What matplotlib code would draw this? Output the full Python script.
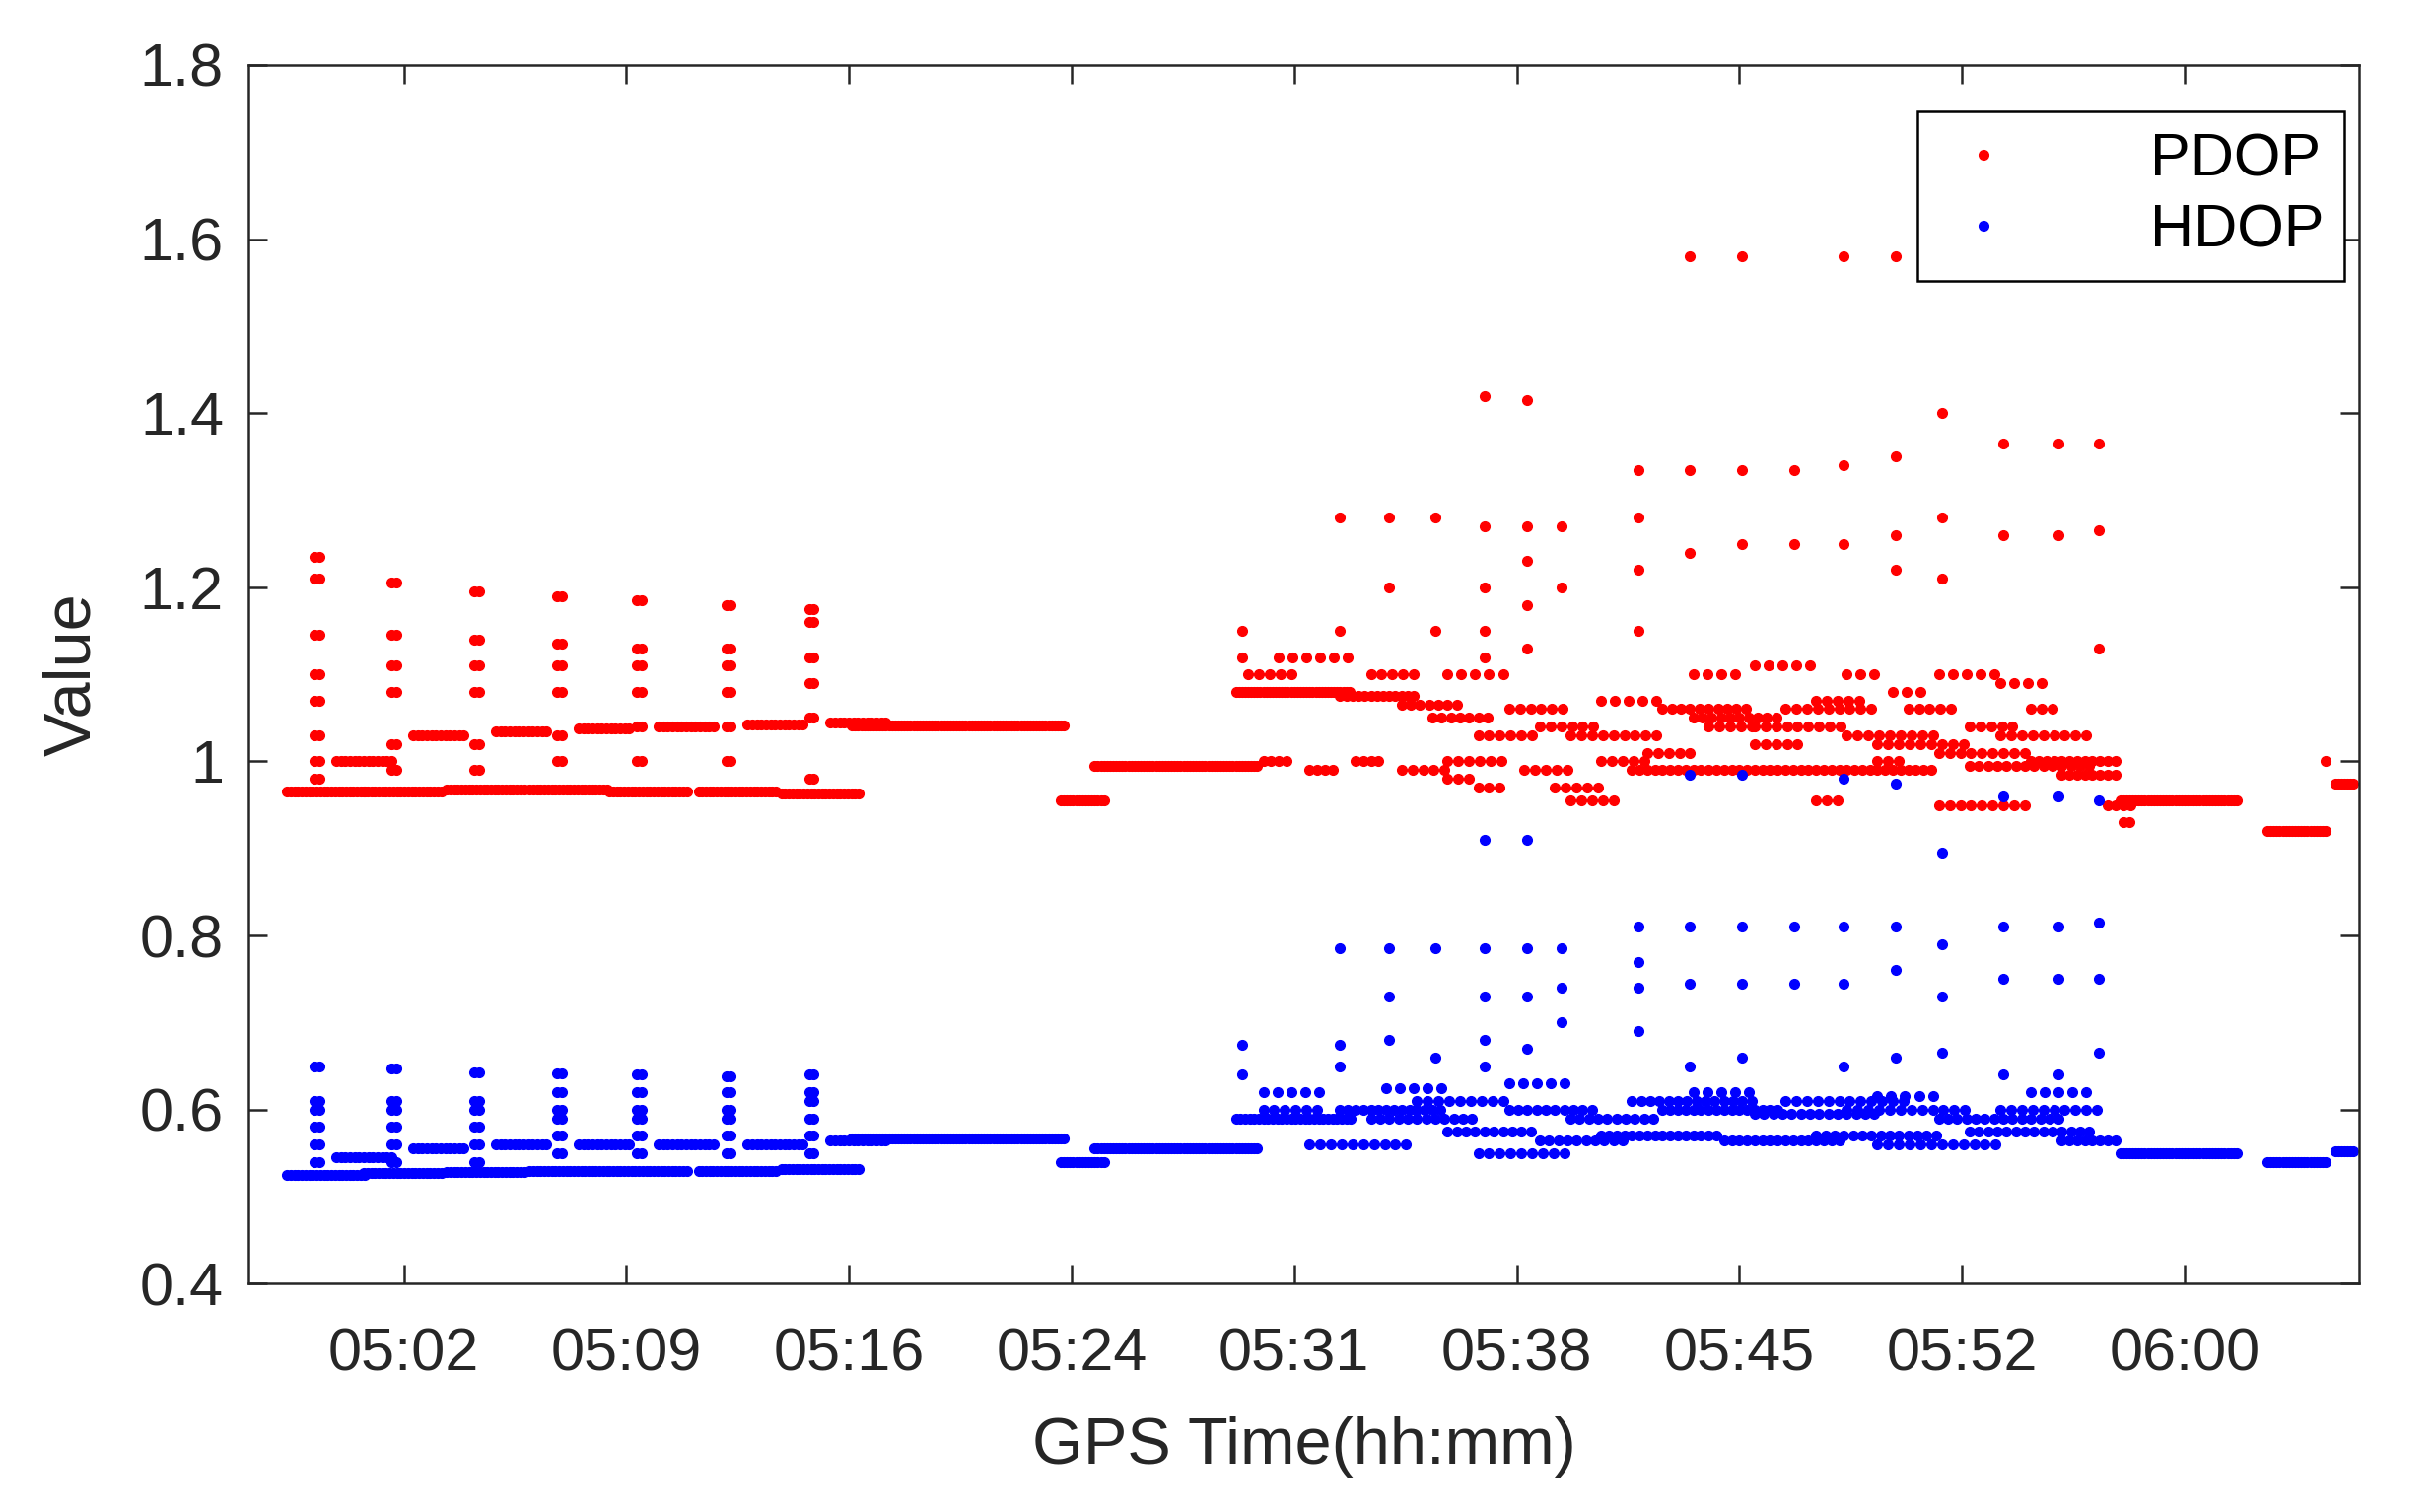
import numpy as np
import matplotlib
matplotlib.use("Agg")
import matplotlib.pyplot as plt

plt.rcParams['font.family'] = ['Liberation Sans', 'DejaVu Sans']

# time in minutes after 05:00
tick_pos = [2.0, 9.25, 16.5, 23.75, 31.0, 38.25, 45.5, 52.75, 60.0]
tick_lab = ["05:02", "05:09", "05:16", "05:24", "05:31", "05:38", "05:45", "05:52", "06:00"]

cyc_t = [-0.9, 1.6, 4.3, 7.0, 9.6, 12.5, 15.2]
p_cyc_low = [0.965, 0.965, 0.968, 0.968, 0.966, 0.965, 0.963]
p_cyc_high = [1.0, 1.03, 1.035, 1.038, 1.04, 1.042, 1.045]
p_cyc_spk = [[0.98, 1.0, 1.03, 1.07, 1.1, 1.145, 1.21, 1.235],
             [0.99, 1.02, 1.08, 1.11, 1.145, 1.205],
             [0.99, 1.02, 1.08, 1.11, 1.14, 1.195],
             [1.0, 1.03, 1.08, 1.11, 1.135, 1.19],
             [1.0, 1.04, 1.08, 1.11, 1.13, 1.185],
             [1.0, 1.04, 1.08, 1.11, 1.13, 1.18],
             [0.98, 1.05, 1.09, 1.12, 1.16, 1.175]]
h_cyc_low = [0.525, 0.527, 0.528, 0.529, 0.53, 0.53, 0.532]
h_cyc_high = [0.545, 0.555, 0.56, 0.56, 0.56, 0.56, 0.565]
h_cyc_spk = [[0.54, 0.56, 0.58, 0.6, 0.61, 0.65],
             [0.54, 0.56, 0.58, 0.6, 0.61, 0.647],
             [0.54, 0.56, 0.58, 0.6, 0.61, 0.643],
             [0.55, 0.57, 0.59, 0.6, 0.62, 0.642],
             [0.55, 0.57, 0.59, 0.6, 0.62, 0.64],
             [0.55, 0.57, 0.59, 0.6, 0.62, 0.638],
             [0.55, 0.57, 0.59, 0.61, 0.62, 0.64]]

p_segments = [(16.6, 23.6, 1.041, 0.1), (23.4, 24.9, 0.955, 0.1), (24.5, 29.8, 0.995, 0.1),
              (29.1, 32.9, 1.08, 0.1), (32.5, 35.0, 1.075, 0.2), (34.5, 36.5, 1.065, 0.3),
              (35.5, 37.5, 1.05, 0.3), (37.0, 39.0, 1.03, 0.35), (29.5, 31, 1.1, 0.35),
              (30.5, 33, 1.12, 0.45), (33.5, 35, 1.1, 0.35), (36, 38, 1.1, 0.45),
              (38, 40, 1.06, 0.35), (39, 41, 1.04, 0.35), (40, 43, 1.03, 0.35),
              (41, 43, 1.07, 0.45), (43, 46, 1.06, 0.3), (44, 47, 1.05, 0.3),
              (46, 49, 1.04, 0.35), (47, 50, 1.06, 0.35), (49, 52, 1.03, 0.35),
              (50, 53, 1.02, 0.35), (52, 55, 1.01, 0.35), (54, 57, 1.03, 0.35),
              (55, 58, 1.0, 0.25), (56, 58, 0.985, 0.25),
              (30, 31, 1.0, 0.25), (31.5, 32.5, 0.99, 0.25), (33, 34, 1.0, 0.25),
              (34.5, 36, 0.99, 0.35), (36, 37, 0.98, 0.35), (37, 38, 0.97, 0.35),
              (38.5, 40, 0.99, 0.35), (39.5, 41, 0.97, 0.35), (40, 41.5, 0.955, 0.35),
              (42, 47, 0.99, 0.25), (47, 52, 0.99, 0.25), (48, 49, 0.955, 0.35),
              (52, 55, 0.95, 0.35), (53, 57, 0.995, 0.3), (57.5, 58.5, 0.95, 0.25),
              (58, 58.4, 0.93, 0.2), (36, 38, 1.0, 0.35), (41, 42.5, 1.0, 0.35),
              (42.5, 44, 1.01, 0.35), (44.5, 46, 1.04, 0.35), (46, 47.5, 1.02, 0.35),
              (48, 49.5, 1.07, 0.35), (50, 51, 1.0, 0.35), (51, 52.5, 1.06, 0.35),
              (53, 54.5, 1.04, 0.35), (55, 56, 1.06, 0.35), (44, 45.5, 1.1, 0.45),
              (46, 48, 1.11, 0.45), (49, 50, 1.1, 0.45), (50.5, 51.5, 1.08, 0.45),
              (52, 54, 1.1, 0.45), (54, 55.5, 1.09, 0.45),
              (57.9, 61.7, 0.955, 0.1), (62.7, 64.7, 0.92, 0.1), (64.9, 65.6, 0.975, 0.1)]
h_segments = [(16.6, 23.6, 0.567, 0.1), (23.4, 24.9, 0.54, 0.1), (24.5, 29.8, 0.555, 0.1),
              (29.1, 33.0, 0.59, 0.15), (30, 32, 0.6, 0.35), (31.5, 35, 0.56, 0.35),
              (32.5, 36, 0.6, 0.25), (33.5, 37, 0.59, 0.3), (35, 38, 0.61, 0.35),
              (36, 39, 0.575, 0.3), (37, 40, 0.55, 0.35), (38, 41, 0.6, 0.3),
              (39, 42, 0.565, 0.3), (40, 43, 0.59, 0.3), (41, 45, 0.57, 0.25),
              (42, 46, 0.61, 0.3), (43, 47, 0.6, 0.25), (45, 49, 0.565, 0.25),
              (46, 50, 0.595, 0.3), (47, 51, 0.61, 0.35), (48, 52, 0.57, 0.3),
              (49, 53, 0.6, 0.35), (50, 54, 0.56, 0.35), (52, 56, 0.59, 0.3),
              (53, 57, 0.575, 0.3), (54, 57.5, 0.6, 0.35), (56, 58, 0.565, 0.25),
              (30, 32, 0.62, 0.45), (34, 36, 0.625, 0.45), (38, 40, 0.63, 0.45),
              (44, 46, 0.62, 0.45), (50, 52, 0.615, 0.45), (55, 57, 0.62, 0.45),
              (57.9, 61.7, 0.55, 0.1), (62.7, 64.7, 0.54, 0.1), (64.9, 65.6, 0.552, 0.1)]

col_t = [29.3, 32.5, 34.1, 35.6, 37.2, 38.6, 39.7, 42.2, 43.9, 45.6, 47.3, 48.9, 50.6, 52.1, 54.1, 55.9, 57.2]
p_col = [[1.12, 1.15],
         [1.15, 1.28], [1.2, 1.28], [1.15, 1.28],
         [1.12, 1.15, 1.2, 1.27, 1.42], [1.13, 1.18, 1.23, 1.27, 1.415], [1.2, 1.27],
         [1.15, 1.22, 1.28, 1.335], [1.24, 1.335, 1.58], [1.25, 1.335, 1.58],
         [1.25, 1.335], [1.25, 1.34, 1.58], [1.22, 1.26, 1.35, 1.58],
         [1.21, 1.28, 1.4], [1.26, 1.365], [1.26, 1.365], [1.13, 1.265, 1.365]]
h_col = [[0.64, 0.675],
         [0.65, 0.675, 0.785], [0.68, 0.73, 0.785], [0.66, 0.785],
         [0.65, 0.68, 0.73, 0.785, 0.91], [0.67, 0.73, 0.785, 0.91], [0.7, 0.74, 0.785],
         [0.69, 0.74, 0.77, 0.81], [0.65, 0.745, 0.81, 0.985], [0.66, 0.745, 0.81, 0.985],
         [0.745, 0.81], [0.65, 0.745, 0.81, 0.98], [0.66, 0.76, 0.81, 0.975],
         [0.665, 0.73, 0.79, 0.895], [0.64, 0.75, 0.81, 0.96], [0.64, 0.75, 0.81, 0.96], [0.665, 0.75, 0.815, 0.955]]

def build(low, high, spk, segs, cols):
    xs, ys = [], []
    for t, lo, hi, sp in zip(cyc_t, low, high, spk):
        for x in np.arange(t - 0.9, t + 1.7, 0.12):
            xs.append(x); ys.append(lo)
        for x in np.arange(t + 0.7, t + 2.5, 0.15):
            xs.append(x); ys.append(hi)
        for dx in (0.0, 0.15):
            for v in sp:
                xs.append(t + dx); ys.append(v)
    for a, b, v, s in segs:
        for x in np.arange(a, b, s):
            xs.append(x); ys.append(v)
    for t, vals in zip(col_t, cols):
        for v in vals:
            xs.append(t); ys.append(v)
    return np.array(xs), np.array(ys)

px, py = build(p_cyc_low, p_cyc_high, p_cyc_spk, p_segments, p_col)
hx, hy = build(h_cyc_low, h_cyc_high, h_cyc_spk, h_segments, h_col)

fig = plt.figure(figsize=(24.7, 15.34), dpi=100)
ax = fig.add_axes([0.102, 0.151, 0.867, 0.806])
ms = 14
ax.plot(px, py, '.', color='red', markersize=ms, linestyle='none', label='PDOP')
ax.plot(hx, hy, '.', color='blue', markersize=ms, linestyle='none', label='HDOP')
ax.plot([64.6], [1.0], '.', color='red', markersize=ms)
ax.set_xlim(-3.06, 65.7)
ax.set_ylim(0.4, 1.8)
ax.set_xticks(tick_pos)
ax.set_xticklabels(tick_lab)
ax.set_yticks([0.4, 0.6, 0.8, 1.0, 1.2, 1.4, 1.6, 1.8])
ax.set_yticklabels(["0.4", "0.6", "0.8", "1", "1.2", "1.4", "1.6", "1.8"])
ax.tick_params(direction='in', length=14, width=1.8, labelsize=44, colors='#262626',
               top=True, right=True, pad=18)
ax.tick_params(axis='x', pad=32)
for s in ax.spines.values():
    s.set_linewidth(1.8)
    s.set_color('#262626')
ax.set_xlabel("GPS Time(hh:mm)", fontsize=48, color='#262626', labelpad=24)
ax.set_ylabel("Value", fontsize=48, color='#262626', labelpad=26)
leg = ax.legend(loc='upper right', bbox_to_anchor=(0.993, 0.962), fontsize=44, markerscale=1.0,
                fancybox=False, edgecolor='black', framealpha=1, handletextpad=2.0,
                borderpad=0.35, labelspacing=0.25, handlelength=1.5, borderaxespad=0)
leg.get_frame().set_linewidth(1.8)
fig.savefig("out.png", dpi=100)
